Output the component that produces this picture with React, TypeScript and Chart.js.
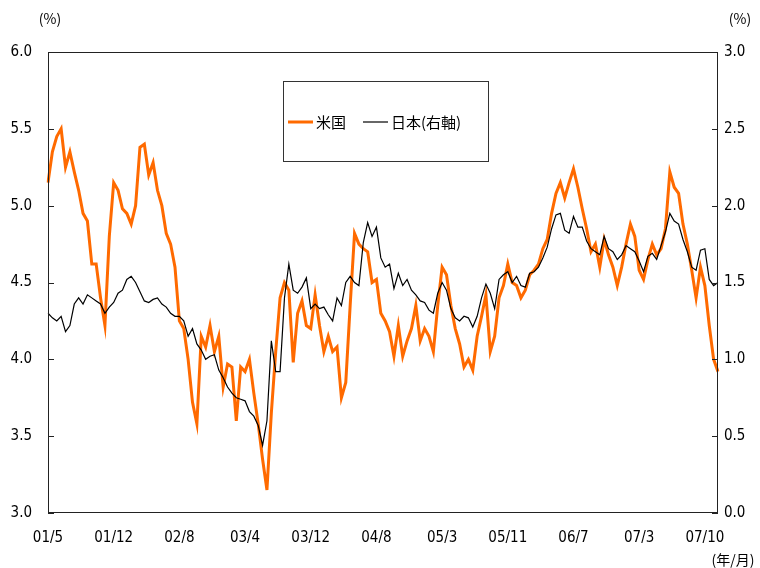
import React, { useEffect, useRef } from "react";
import { Chart, registerables } from "chart.js";
Chart.register(...registerables);

const tickLabels = ["01/5", "01/12", "02/8", "03/4", "03/12", "04/8", "05/3", "05/11", "06/7", "07/3", "07/10"];
const pointsPerTick = 15;

const usYield = [
  5.15, 5.35, 5.45, 5.5, 5.25, 5.35, 5.22, 5.1, 4.95, 4.9,
  4.62, 4.62, 4.4, 4.22, 4.8, 5.15, 5.1, 4.98, 4.95, 4.88,
  5.0, 5.38, 5.4, 5.2, 5.28, 5.1, 5.0, 4.82, 4.75, 4.6,
  4.25, 4.2, 4.0, 3.72, 3.58, 4.15, 4.08, 4.22, 4.05, 4.15,
  3.82, 3.97, 3.95, 3.6, 3.95, 3.92, 4.0, 3.78, 3.58, 3.35,
  3.15, 3.65, 4.05, 4.4, 4.5, 4.45, 3.98, 4.3, 4.38, 4.22,
  4.2, 4.42, 4.22, 4.05, 4.15, 4.05, 4.08, 3.75, 3.85, 4.35,
  4.82, 4.75, 4.72, 4.7, 4.5, 4.52, 4.3, 4.25, 4.18, 4.02,
  4.22, 4.02, 4.12, 4.2, 4.35, 4.12, 4.2, 4.15, 4.05, 4.35,
  4.6, 4.55, 4.35, 4.2, 4.1, 3.95, 4.0, 3.93, 4.15, 4.28,
  4.42, 4.05, 4.15, 4.4, 4.48, 4.62, 4.5, 4.48, 4.4, 4.45,
  4.55, 4.58, 4.62, 4.72, 4.78, 4.95, 5.08, 5.15, 5.05, 5.15,
  5.24, 5.12, 4.98, 4.85, 4.7, 4.75, 4.6, 4.78, 4.68, 4.6,
  4.48, 4.6, 4.75, 4.88, 4.8, 4.58, 4.52, 4.65, 4.75, 4.68,
  4.72, 4.85, 5.22, 5.12, 5.08, 4.88, 4.75, 4.58, 4.4, 4.6,
  4.48, 4.22, 4.0, 3.92,
];

const jpYield = [
  1.3, 1.27, 1.25, 1.28, 1.18, 1.22, 1.36, 1.4, 1.36, 1.42,
  1.4, 1.38, 1.36, 1.3, 1.34, 1.37, 1.43, 1.45, 1.52, 1.54,
  1.5, 1.44, 1.38, 1.37, 1.39, 1.4, 1.36, 1.34, 1.3, 1.28,
  1.28, 1.25, 1.15, 1.2, 1.1, 1.06, 1.0, 1.02, 1.03, 0.93,
  0.88, 0.82, 0.78, 0.75, 0.74, 0.73, 0.66, 0.63, 0.57, 0.44,
  0.6, 1.12, 0.92, 0.92, 1.4, 1.62, 1.45, 1.43, 1.47, 1.53,
  1.33, 1.36, 1.33, 1.34, 1.29, 1.25, 1.4, 1.35, 1.5, 1.54,
  1.5, 1.48, 1.76, 1.89, 1.8, 1.86, 1.66, 1.6, 1.62, 1.46,
  1.56, 1.48, 1.52, 1.45, 1.42, 1.38, 1.37, 1.32, 1.3, 1.43,
  1.5, 1.45, 1.33, 1.27, 1.25, 1.28, 1.27, 1.21, 1.28, 1.4,
  1.49, 1.43, 1.33, 1.52, 1.55, 1.57, 1.5, 1.54, 1.48, 1.47,
  1.56, 1.57, 1.6, 1.66, 1.73, 1.85, 1.94, 1.95, 1.84, 1.82,
  1.93, 1.86, 1.86, 1.77, 1.72, 1.7, 1.68, 1.8, 1.72, 1.7,
  1.65, 1.68, 1.74, 1.72, 1.7, 1.64, 1.57, 1.67, 1.69, 1.65,
  1.74, 1.83, 1.95, 1.9, 1.88, 1.78, 1.7, 1.6, 1.58, 1.71,
  1.72, 1.52, 1.48, 1.5,
];

const seriesNames = ["米国", "日本(右軸)"];
const unitLeft = "(%)";
const unitRight = "(%)";
const unitX = "(年/月)";

const categories = usYield.map((_, i) =>
  i % pointsPerTick === 0 && tickLabels[i / pointsPerTick] ? tickLabels[i / pointsPerTick] : ""
);

const NUM_FONT = "'Liberation Sans Narrow', 'DejaVu Sans Condensed', 'Noto Sans CJK JP', sans-serif";
const CJK_FONT = "'Noto Sans CJK JP', sans-serif";
const ORANGE = "#FF6A00";

const decor = {
  id: "decor",
  afterDatasetsDraw(chart: any) {
    const { ctx, chartArea: a, scales } = chart;
    ctx.save();
    ctx.strokeStyle = "#222";
    ctx.lineWidth = 1;
    ctx.strokeRect(a.left + 0.5, a.top + 0.5, a.right - a.left - 1, a.bottom - a.top - 1);
    const yl = scales.y;
    yl.ticks.forEach((t: any) => {
      const y = Math.round(yl.getPixelForValue(t.value)) + 0.5;
      ctx.beginPath();
      ctx.moveTo(a.left, y);
      ctx.lineTo(a.left + 6, y);
      ctx.stroke();
    });
    const yr = scales.y1;
    yr.ticks.forEach((t: any) => {
      const y = Math.round(yr.getPixelForValue(t.value)) + 0.5;
      ctx.beginPath();
      ctx.moveTo(a.right - 6, y);
      ctx.lineTo(a.right, y);
      ctx.stroke();
    });
    const lx = 283, ly = 81, lw = 205, lh = 80;
    ctx.fillStyle = "#fff";
    ctx.fillRect(lx, ly, lw, lh);
    ctx.strokeStyle = "#333";
    ctx.strokeRect(lx + 0.5, ly + 0.5, lw, lh);
    const cy = 122;
    ctx.strokeStyle = ORANGE;
    ctx.lineWidth = 3;
    ctx.beginPath();
    ctx.moveTo(288, cy);
    ctx.lineTo(313, cy);
    ctx.stroke();
    ctx.strokeStyle = "#000";
    ctx.lineWidth = 1.2;
    ctx.beginPath();
    ctx.moveTo(363, cy);
    ctx.lineTo(388, cy);
    ctx.stroke();
    ctx.fillStyle = "#000";
    ctx.font = `15px ${CJK_FONT}`;
    ctx.textBaseline = "middle";
    ctx.textAlign = "left";
    ctx.fillText(seriesNames[0], 316, cy);
    ctx.fillText(seriesNames[1], 391, cy);
    ctx.font = `14px ${CJK_FONT}`;
    ctx.textAlign = "center";
    ctx.fillText(unitLeft, 50, 19);
    ctx.fillText(unitRight, 740, 19);
    ctx.fillText(unitX, 733, 560);
    ctx.restore();
  },
};

export default function App() {
  const ref = useRef<HTMLCanvasElement | null>(null);
  useEffect(() => {
    document.body.style.margin = "0";
    const canvas = ref.current;
    if (!canvas) return;
    const chart = new Chart(canvas, {
      type: "line",
      data: {
        labels: categories,
        datasets: [
          {
            label: seriesNames[0],
            data: usYield,
            borderColor: ORANGE,
            borderWidth: 3,
            pointRadius: 0,
            tension: 0,
            yAxisID: "y",
            order: 1,
          },
          {
            label: seriesNames[1],
            data: jpYield,
            borderColor: "#000",
            borderWidth: 1.2,
            pointRadius: 0,
            tension: 0,
            yAxisID: "y1",
            order: 0,
          },
        ],
      },
      options: {
        responsive: false,
        animation: false,
        layout: { padding: { top: 52, left: 0, right: 0, bottom: 0 } },
        plugins: { legend: { display: false }, tooltip: { enabled: false } },
        scales: {
          x: {
            type: "category",
            offset: false,
            grid: { display: false, drawTicks: false },
            border: { display: false },
            ticks: {
              autoSkip: false,
              maxRotation: 0,
              minRotation: 0,
              padding: 16,
              color: "#000",
              font: { family: NUM_FONT, size: 15 },
              callback: (_v: any, i: number) => (categories[i] ? categories[i] : null),
            },
            afterFit: (s: any) => {
              s.height = 55;
            },
          },
          y: {
            position: "left",
            min: 3,
            max: 6,
            grid: { display: false, drawTicks: false },
            border: { display: false },
            ticks: {
              stepSize: 0.5,
              padding: 16,
              color: "#000",
              font: { family: NUM_FONT, size: 15 },
              callback: (v: any) => Number(v).toFixed(1),
            },
            afterFit: (s: any) => {
              s.width = 48;
            },
          },
          y1: {
            position: "right",
            min: 0,
            max: 3,
            grid: { display: false, drawTicks: false },
            border: { display: false },
            ticks: {
              stepSize: 0.5,
              padding: 6,
              color: "#000",
              font: { family: NUM_FONT, size: 15 },
              callback: (v: any) => Number(v).toFixed(1),
            },
            afterFit: (s: any) => {
              s.width = 42;
            },
          },
        },
      },
      plugins: [decor],
    });
    return () => chart.destroy();
  }, []);
  return (
    <div style={{ width: 760, height: 568 }}>
      <canvas ref={ref} width={760} height={568} style={{ display: "block" }} />
    </div>
  );
}
